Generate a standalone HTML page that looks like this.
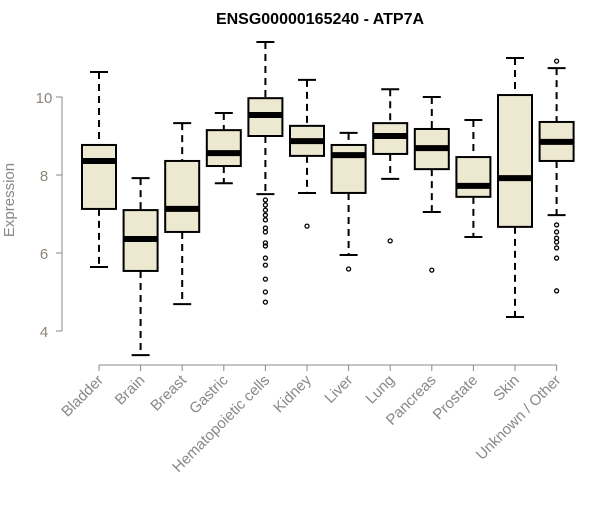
<!DOCTYPE html>
<html><head><meta charset="utf-8"><style>
body{margin:0;background:#fff;}
svg text{font-family:"Liberation Sans",Arial,sans-serif;}
</style></head><body>
<svg id="chart" width="600" height="500" xmlns="http://www.w3.org/2000/svg">
<text x="320" y="24" text-anchor="middle" font-size="16" font-weight="bold">ENSG00000165240 - ATP7A</text>
<g id="yaxis"></g>
<g id="xaxis"></g>
<g id="boxes"></g>
<text x="14" y="200" transform="rotate(-90 14 200)" text-anchor="middle" font-size="15" fill="#888">Expression</text>
</svg>
<script>
const categories=["Bladder","Brain","Breast","Gastric","Hematopoietic cells","Kidney","Liver","Lung","Pancreas","Prostate","Skin","Unknown / Other"];
const whiskerHigh=[10.64,7.92,9.33,9.59,11.41,10.44,9.08,10.2,10.0,9.41,11.0,10.74];
const q3=[8.77,7.1,8.36,9.15,9.97,9.26,8.77,9.33,9.18,8.46,10.05,9.36];
const medians=[8.36,6.36,7.13,8.56,9.54,8.87,8.51,9.0,8.69,7.72,7.92,8.85];
const q1=[7.13,5.54,6.54,8.23,9.0,8.49,7.54,8.54,8.15,7.44,6.67,8.36];
const whiskerLow=[5.64,3.38,4.69,7.79,7.51,7.54,5.95,7.9,7.05,6.41,4.36,6.97];
const outliers=[[],[],[],[],[7.36,7.23,7.1,6.97,6.85,6.64,6.54,6.26,6.18,5.87,5.69,5.33,5.0,4.74],[6.69],[5.59],[6.31],[5.56],[],[],[10.92,6.72,6.54,6.38,6.28,6.13,5.87,5.03]];
const yTicks=[4,6,8,10];
const NS="http://www.w3.org/2000/svg";
const y=v=>97+(10-v)*39;
const x=i=>99+i*41.6;
function mk(tag,attrs,parent){const e=document.createElementNS(NS,tag);for(const k in attrs)e.setAttribute(k,attrs[k]);parent.appendChild(e);return e;}
const ya=document.getElementById('yaxis'),xa=document.getElementById('xaxis'),bx=document.getElementById('boxes');
mk('line',{x1:62,x2:62,y1:y(10),y2:y(4),stroke:'#888'},ya);
yTicks.forEach(t=>{
  mk('line',{x1:56,x2:62,y1:y(t),y2:y(t),stroke:'#888'},ya);
  const tx=mk('text',{x:44,y:y(t)+6,'text-anchor':'middle','font-size':15,fill:'#8c8478'},ya);tx.textContent=t;
  
  
});
mk('line',{x1:x(0),x2:x(categories.length-1),y1:365,y2:365,stroke:'#888'},xa);
categories.forEach((c,i)=>{
  const cx=x(i);
  mk('line',{x1:cx,x2:cx,y1:365,y2:371,stroke:'#888'},xa);
  const t=mk('text',{x:cx+5,y:381,'text-anchor':'end','font-size':15,fill:'#888'},xa);
  t.setAttribute('transform',`rotate(-45 ${cx+5} 381)`);
  t.textContent=c;
  
  
  const g=mk('g',{},bx);
  
  
  mk('line',{x1:cx,x2:cx,y1:y(whiskerHigh[i]),y2:y(q3[i]),stroke:'#000','stroke-width':2,'stroke-dasharray':'7,5'},g);
  mk('line',{x1:cx,x2:cx,y1:y(q1[i]),y2:y(whiskerLow[i]),stroke:'#000','stroke-width':2,'stroke-dasharray':'7,5'},g);
  mk('line',{x1:cx-9,x2:cx+9,y1:y(whiskerHigh[i]),y2:y(whiskerHigh[i]),stroke:'#000','stroke-width':2},g);
  mk('line',{x1:cx-9,x2:cx+9,y1:y(whiskerLow[i]),y2:y(whiskerLow[i]),stroke:'#000','stroke-width':2},g);
  mk('rect',{x:cx-17,y:y(q3[i]),width:34,height:y(q1[i])-y(q3[i]),fill:'#ede8d0',stroke:'#000','stroke-width':2},g);
  mk('line',{x1:cx-17,x2:cx+17,y1:y(medians[i]),y2:y(medians[i]),stroke:'#000','stroke-width':6},g);
  outliers[i].forEach(o=>{
    const p=mk('circle',{cx:cx,cy:y(o),r:2,fill:'none',stroke:'#000','stroke-width':1.3},g);
    
    
  });
});
</script>
</body></html>
